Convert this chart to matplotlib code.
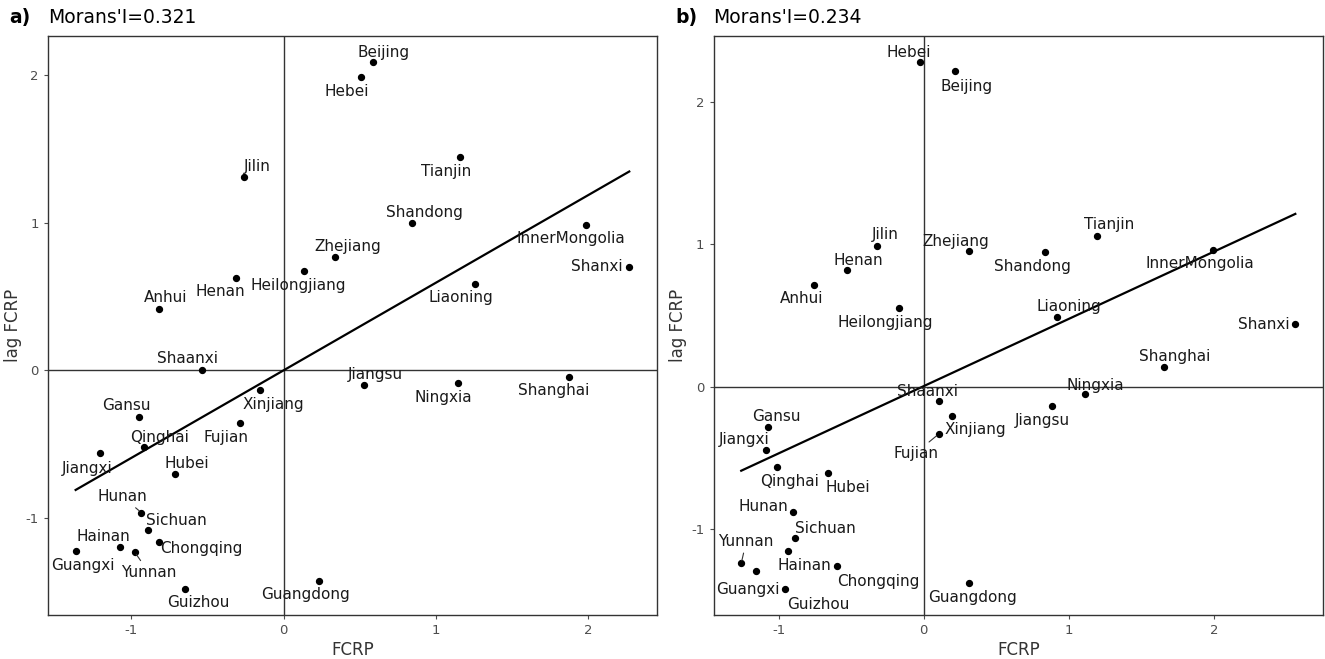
import matplotlib
matplotlib.use("Agg")
import matplotlib.pyplot as plt
import numpy as np

plt.rcParams['font.family'] = ['Liberation Sans Narrow', 'DejaVu Sans Condensed', 'DejaVu Sans']
plt.rcParams['axes.unicode_minus'] = False

provinces = ["Beijing", "Hebei", "Jilin", "Tianjin", "Shandong", "InnerMongolia",
             "Shanxi", "Zhejiang", "Heilongjiang", "Henan", "Anhui", "Liaoning",
             "Shaanxi", "Jiangsu", "Ningxia", "Shanghai", "Xinjiang", "Gansu",
             "Fujian", "Qinghai", "Jiangxi", "Hubei", "Hunan", "Sichuan",
             "Chongqing", "Hainan", "Yunnan", "Guangxi", "Guizhou", "Guangdong"]

# panel a
fcrp_a = [0.586, 0.506, -0.257, 1.155, 0.845, 1.983, 2.268, 0.337, 0.135, -0.315,
          -0.818, 1.254, -0.539, 0.528, 1.144, 1.873, -0.157, -0.950, -0.287, -0.914,
          -1.204, -0.715, -0.934, -0.892, -0.820, -1.077, -0.978, -1.365, -0.646, 0.229]
lag_a = [2.086, 1.986, 1.310, 1.446, 1.000, 0.986, 0.701, 0.769, 0.672, 0.627,
         0.416, 0.588, 0.000, -0.097, -0.088, -0.043, -0.133, -0.314, -0.357, -0.520,
         -0.561, -0.699, -0.962, -1.081, -1.163, -1.195, -1.229, -1.224, -1.477, -1.425]

# panel b
fcrp_b = [0.214, -0.023, -0.322, 1.191, 0.837, 1.993, 2.561, 0.313, -0.170, -0.527,
          -0.758, 0.916, 0.108, 0.881, 1.109, 1.653, 0.193, -1.071, 0.102, -1.013,
          -1.089, -0.661, -0.904, -0.884, -0.600, -0.939, -1.258, -1.156, -0.954, 0.310]
lag_b = [2.212, 2.276, 0.988, 1.059, 0.943, 0.960, 0.441, 0.950, 0.552, 0.818,
         0.717, 0.491, -0.103, -0.133, -0.054, 0.138, -0.203, -0.280, -0.333, -0.566,
         -0.441, -0.606, -0.876, -1.063, -1.256, -1.154, -1.240, -1.294, -1.417, -1.380]

morans = ["0.321", "0.234"]

# label offsets in pixels (dx, dy) and whether a segment is drawn
offsets_a = {"Beijing": (11, 10), "Hebei": (-14, -14), "Jilin": (13, 10), "Tianjin": (-14, -15),
             "Shandong": (12, 10), "InnerMongolia": (-15, -14), "Shanxi": (-32, 0),
             "Zhejiang": (13, 10), "Heilongjiang": (-6, -14), "Henan": (-15, -14),
             "Anhui": (7, 12), "Liaoning": (-14, -14), "Shaanxi": (-14, 12), "Jiangsu": (11, 10),
             "Ningxia": (-15, -14), "Shanghai": (-15, -14), "Xinjiang": (14, -14),
             "Gansu": (-13, 11), "Fujian": (-14, -14), "Qinghai": (15, 10), "Jiangxi": (-13, -15),
             "Hubei": (12, 10), "Hunan": (-19, 16), "Sichuan": (29, 10), "Chongqing": (43, -6),
             "Hainan": (-16, 11), "Yunnan": (14, -20), "Guangxi": (7, -14), "Guizhou": (13, -14),
             "Guangdong": (-13, -14)}
offsets_b = {"Hebei": (-12, 10), "Beijing": (12, -15), "Jilin": (8, 11), "Zhejiang": (-13, 10),
             "Henan": (11, 10), "Shandong": (-13, -14), "Tianjin": (13, 11),
             "InnerMongolia": (-13, -14), "Anhui": (-12, -14), "Heilongjiang": (-14, -14),
             "Liaoning": (12, 10), "Shanxi": (-31, -1), "Shanghai": (11, 11), "Shaanxi": (-12, 10),
             "Ningxia": (11, 9), "Jiangsu": (-9, -15), "Xinjiang": (24, -14), "Fujian": (-23, -19),
             "Gansu": (8, 10), "Jiangxi": (-22, 10), "Qinghai": (13, -14), "Hubei": (20, -14),
             "Hunan": (-29, 5), "Sichuan": (30, 10), "Hainan": (17, -14), "Chongqing": (42, -16),
             "Yunnan": (5, 22), "Guangxi": (-8, -18), "Guizhou": (33, -16), "Guangdong": (4, -14)}
segments_a = ["Hunan", "Yunnan"]
segments_b = ["Fujian", "Yunnan"]

fig = plt.figure(figsize=(13.25, 6.59), dpi=100)
ax1 = fig.add_axes([0.0362, 0.0668, 0.4596, 0.8786])
ax2 = fig.add_axes([0.5385, 0.0668, 0.46, 0.8786])


def moran_panel(ax, x, y, offsets, segs, tag, mi, fx):
    x = np.array(x)
    y = np.array(y)
    ax.axhline(0, color='#333333', lw=1.0, zorder=1)
    ax.axvline(0, color='#333333', lw=1.0, zorder=1)
    ax.scatter(x, y, s=18, color='black', zorder=3)
    p = np.polyfit(x, y, 1)
    xs = np.linspace(x.min(), x.max(), 50)
    ax.plot(xs, np.polyval(p, xs), color='black', lw=1.6, zorder=2)
    for name, xi, yi in zip(provinces, x, y):
        dx, dy = offsets[name]
        arrow = None
        if name in segs:
            arrow = dict(arrowstyle='-', color='#333333', lw=0.8, shrinkA=1, shrinkB=2)
        ax.annotate(name, (xi, yi), xytext=(dx, dy), textcoords='offset pixels',
                    ha='center', va='center', fontsize=11, color='#1a1a1a',
                    arrowprops=arrow, zorder=4)
    ax.set_xticks([-1, 0, 1, 2])
    ax.set_yticks([-1, 0, 1, 2])
    ax.tick_params(colors='#4d4d4d', labelsize=9.5, length=3, width=0.8)
    for sp in ax.spines.values():
        sp.set_color('#333333')
        sp.set_linewidth(1.0)
    ax.set_xlabel('FCRP', fontsize=12, color='#333333', labelpad=3)
    ax.set_ylabel('lag FCRP', fontsize=12, color='#333333', labelpad=3)
    ax.margins(0.05)
    fig.text(fx, 0.974, tag, fontsize=13.5, fontweight='bold', va='center', ha='left')
    pos = ax.get_position()
    fig.text(pos.x0, 0.974, "Morans'I=" + mi, fontsize=13.5, va='center', ha='left')


moran_panel(ax1, fcrp_a, lag_a, offsets_a, segments_a, 'a)', morans[0], 0.007)
moran_panel(ax2, fcrp_b, lag_b, offsets_b, segments_b, 'b)', morans[1], 0.510)

fig.savefig('out.png', dpi=100)
